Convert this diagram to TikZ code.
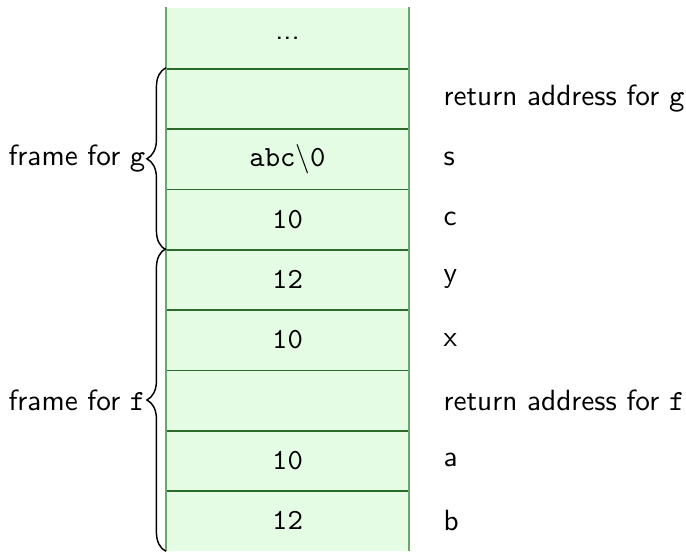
\documentclass[tikz,border=0pt]{standalone}
\usetikzlibrary{decorations.pathreplacing,calc}
\renewcommand{\familydefault}{\sfdefault}
\definecolor{cellfill}{HTML}{E4FBE4}
\definecolor{rowline}{HTML}{2A6A2A}
\definecolor{sideline}{HTML}{6AA56A}
\begin{document}
\begin{tikzpicture}[x=0.342pt,y=-0.342pt,
  cell/.style={rectangle, fill=cellfill, minimum width=82.76pt,
    minimum height=20.62pt, inner sep=0pt, font=\ttfamily},
  tag/.style={anchor=west, inner sep=0pt},
  sep/.style={draw=rowline, line width=0.6pt},
  side/.style={draw=sideline, line width=0.6pt},
  framebrace/.style={decorate, line width=0.5pt, decoration={brace, amplitude=6.5pt}},
  framelabel/.style={anchor=east, inner sep=0pt}]
\useasboundingbox (0,0) rectangle (686,551);

% stack cells, top to bottom
\node[cell] (r0) at (287.5, 38.15) {\sffamily ...};
\node[cell] (r1) at (287.5, 98.45) {};
\node[cell] (r2) at (287.5,158.75) {abc$\backslash$0};
\node[cell] (r3) at (287.5,219.05) {10};
\node[cell] (r4) at (287.5,279.35) {12};
\node[cell] (r5) at (287.5,339.65) {10};
\node[cell] (r6) at (287.5,399.95) {};
\node[cell] (r7) at (287.5,460.25) {10};
\node[cell] (r8) at (287.5,520.55) {12};

% separators between cells
\foreach \a/\b in {r0/r1,r1/r2,r2/r3,r3/r4,r4/r5,r5/r6,r6/r7,r7/r8}
  \draw[sep] (\a.south west) -- (\a.south east);
% side walls of the stack
\draw[side] (r0.north west) -- (r8.south west);
\draw[side] (r0.north east) -- (r8.south east);

% slot names
\node[tag] (t1) at (443, 98.45) {return address for \texttt{g}};
\node[tag] (t2) at (443,158.75) {s};
\node[tag] (t3) at (443,219.05) {c};
\node[tag] (t4) at (443,279.35) {y};
\node[tag] (t5) at (443,339.65) {x};
\node[tag] (t6) at (443,399.95) {return address for \texttt{f}};
\node[tag] (t7) at (443,460.25) {a};
\node[tag] (t8) at (443,520.55) {b};

% frames
\draw[framebrace] (r3.south west) -- (r1.north west);
\draw[framebrace] (r8.south west) -- (r4.north west);
\node[framelabel] (fg) at ($($(r1.north west)!0.5!(r3.south west)$)+(-20,0)$) {frame for \texttt{g}};
\node[framelabel] (ff) at ($($(r4.north west)!0.5!(r8.south west)$)+(-20,0)$) {frame for \texttt{f}};
\end{tikzpicture}
\end{document}
